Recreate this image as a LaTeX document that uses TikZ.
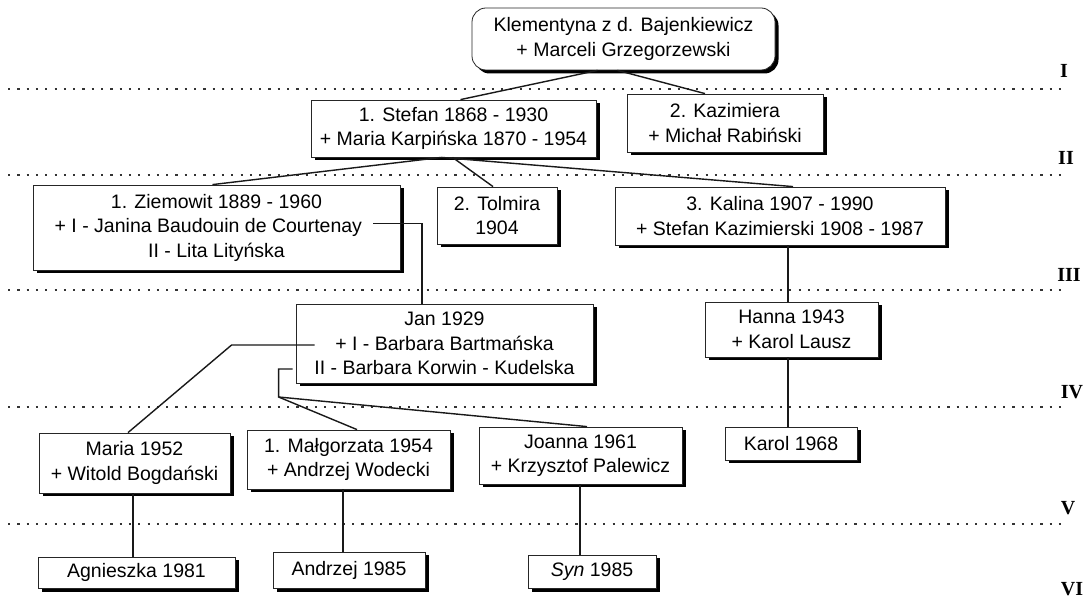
\documentclass[tikz,border=0pt]{standalone}
\usepackage{fontspec}
\setmainfont{Liberation Sans}
\newfontfamily\romfont{Liberation Serif}
\usetikzlibrary{shadows,calc}
\begin{document}
\begin{tikzpicture}[x=1pt,y=-1pt,
  box/.style={draw=black!85, line width=0.8pt, fill=white, align=center, inner sep=0pt,
    font=\fontsize{19.5}{24.5}\selectfont,
    drop shadow={shadow xshift=3.5pt, shadow yshift=-3.5pt, fill=black, opacity=1}},
  conn/.style={line width=1.4pt, black!90},
  sep/.style={line width=2.2pt, dash pattern=on 2.2pt off 7.1pt, black!80},
  gen/.style={font=\romfont\bfseries\fontsize{20}{20}\selectfont, inner sep=0pt}]
\useasboundingbox[fill=white] (0,0) rectangle (1088,601);

% generation separators
\draw[sep] (8,89) -- (1062,89);
\draw[sep] (8,175) -- (1062,175);
\draw[sep] (8,290) -- (1062,290);
\draw[sep] (8,407) -- (1062,407);
\draw[sep] (8,524) -- (1062,524);

\node[gen] (g1) at (1064,71) {I};
\node[gen] (g2) at (1066,158) {II};
\node[gen] (g3) at (1069,275) {III};
\node[gen] (g4) at (1072,392) {IV};
\node[gen] (g5) at (1068,508) {V};
\node[gen] (g6) at (1072,589) {VI};

% persons
\node[box, rounded corners=14pt, minimum width=303pt, minimum height=62pt] (root) at (623.5,39)
  {Klementyna z d. Bajenkiewicz\\+ Marceli Grzegorzewski};
\node[box, minimum width=285pt, minimum height=57pt] (stefan) at (453.5,128.5)
  {1. Stefan 1868 - 1930\\+ Maria Karpińska 1870 - 1954};
\node[box, minimum width=196pt, minimum height=58pt] (kazim) at (725,123)
  {2. Kazimiera\\+ Michał Rabiński};
\node[box, minimum width=367pt, minimum height=85pt] (ziem) at (216.5,227.5)
  {1. Ziemowit 1889 - 1960\\+ I - Janina Baudouin de Courtenay\phantom{ --}\\II - Lita Lityńska};
\node[box, minimum width=120pt, minimum height=57pt] (tolm) at (497,215.5)
  {2. Tolmira\\1904};
\node[box, minimum width=330pt, minimum height=58pt] (kalina) at (780,216)
  {3. Kalina 1907 - 1990\\+ Stefan Kazimierski 1908 - 1987};
\node[box, minimum width=297pt, minimum height=79pt] (jan) at (444.5,343.5)
  {Jan 1929\\+ I - Barbara Bartmańska\\II - Barbara Korwin - Kudelska};
\node[box, minimum width=173pt, minimum height=55pt] (hanna) at (791.5,329.5)
  {Hanna 1943\\+ Karol Lausz};
\node[box, minimum width=191pt, minimum height=60pt] (maria) at (134.5,463)
  {Maria 1952\\+ Witold Bogdański};
\node[box, minimum width=203pt, minimum height=59pt] (malg) at (348.5,459.5)
  {1. Małgorzata 1954\\+ Andrzej Wodecki};
\node[box, minimum width=203pt, minimum height=57pt] (joanna) at (580.5,455.5)
  {Joanna 1961\\+ Krzysztof Palewicz};
\node[box, minimum width=132pt, minimum height=33pt] (karol) at (791,443.5)
  {Karol 1968};
\node[box, minimum width=197pt, minimum height=31pt] (agn) at (136.5,572.5)
  {Agnieszka 1981};
\node[box, minimum width=152pt, minimum height=36pt] (andrz) at (349,570)
  {Andrzej 1985};
\node[box, minimum width=128pt, minimum height=33pt] (syn) at (592,571.5)
  {\textit{Syn} 1985};

% connectors
\draw[conn] ([xshift=-26pt]root.south) -- ([xshift=7pt]stefan.north);
\draw[conn] ([xshift=-6pt]root.south) -- ([xshift=-20pt]kazim.north);
\coordinate (sb) at ([xshift=-12pt]stefan.south);
\draw[conn] (sb) -- ([xshift=-4pt]ziem.north);
\draw[conn] ([xshift=-1pt]stefan.south) -- ([xshift=-4pt]tolm.north);
\draw[conn] (sb) -- ([xshift=13pt]kalina.north);
\draw[conn] ([xshift=-27pt,yshift=4pt]ziem.east) -| ([xshift=-22.5pt]jan.north);
\draw[conn] ([xshift=-3.5pt]hanna.north) -- ([xshift=-3.5pt]hanna.north |- kalina.south);
\draw[conn] ([xshift=-3pt]karol.north) -- ([xshift=-3pt]karol.north |- hanna.south);
\draw[conn] ([xshift=19pt,yshift=-1.5pt]jan.west) -- ++(-83,0) -- ([xshift=-6.5pt]maria.north);
\draw[conn] ([xshift=-3pt,yshift=-25.5pt]jan.west) -- ++(-14,0) -- ++(0,28) coordinate (br)
  -- ([xshift=8.5pt]malg.north);
\draw[conn] (br) -- ([xshift=6.5pt]joanna.north);
\draw[conn] ([xshift=-3.5pt]agn.north) -- ([xshift=-3.5pt]agn.north |- maria.south);
\draw[conn] ([xshift=-6pt]andrz.north) -- ([xshift=-6pt]andrz.north |- malg.south);
\draw[conn] ([xshift=-12pt]syn.north) -- ([xshift=-12pt]syn.north |- joanna.south);
\end{tikzpicture}
\end{document}
